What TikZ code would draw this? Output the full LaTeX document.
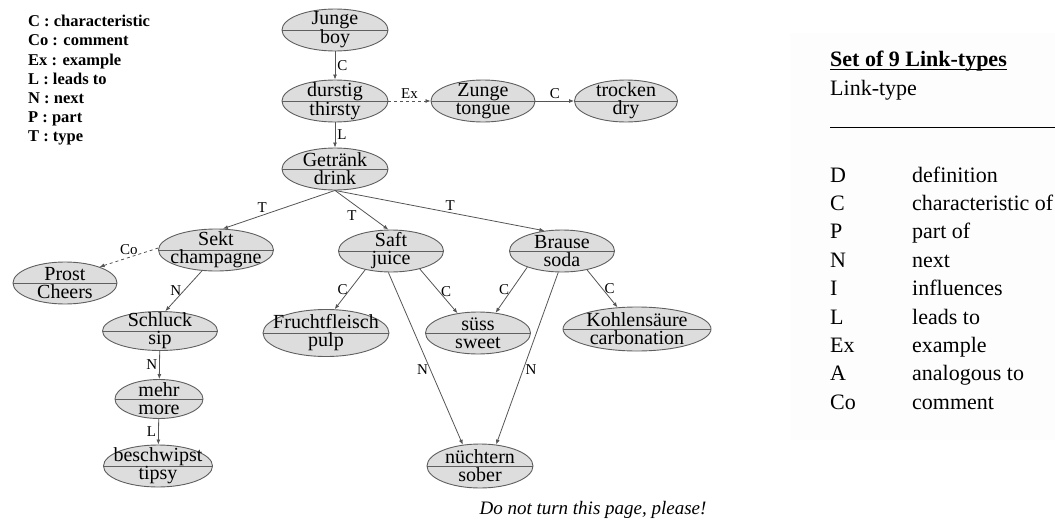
\documentclass[tikz,border=0pt]{standalone}
\usepackage{fontspec}
\setmainfont{Liberation Serif}
\usetikzlibrary{shapes.geometric}
\usetikzlibrary{arrows.meta}
\definecolor{nodegray}{RGB}{221,221,221}
\definecolor{rimgray}{RGB}{95,95,95}
\definecolor{linkgray}{RGB}{85,85,85}
\definecolor{panelgray}{RGB}{253,253,253}
\tikzset{
  % concept ellipse: German word on top, English word below the line
  concept/.style={
    ellipse,draw=rimgray,fill=nodegray,line width=.9pt,
    minimum height=42pt,inner sep=0pt,
    path picture={\draw[rimgray,line width=.9pt]
      (path picture bounding box.west) -- (path picture bounding box.east);},
  },
  words/.style={align=center,inner sep=0pt,font=\fontsize{20}{18}\selectfont},
  % links between concepts
  link/.style={draw=linkgray,line width=.8pt,-{Latex[length=5pt,width=4pt]}},
  comment/.style={link,dashed},
  tag/.style={font=\fontsize{15}{15}\selectfont,inner sep=2pt},
  keytext/.style={font=\fontsize{22}{22}\selectfont,inner sep=0pt,anchor=base west},
}
\begin{document}
\begin{tikzpicture}[x=1pt,y=-1pt]
  \useasboundingbox (0,0) rectangle (1055,522);
  \fill[panelgray] (790,33) rectangle (1055,440);
  % abbreviations
  \node[font=\fontsize{16.5}{19.2}\selectfont\bfseries,align=left,
    anchor=north west,inner sep=0pt] (abbrev) at (28,15)
    {C : characteristic\\Co : comment\\Ex : example\\L : leads to\\
     N : next\\P : part\\T : type};
  % concepts
  \node[concept,minimum width=106pt,label={[words]center:Junge\\boy}] (junge) at (335,30) {};
  \node[concept,minimum width=106pt,label={[words]center:durstig\\thirsty}] (durstig) at (335,101) {};
  \node[concept,minimum width=104pt,label={[words]center:Zunge\\tongue}] (zunge) at (483,101) {};
  \node[concept,minimum width=103pt,label={[words]center:trocken\\dry}] (trocken) at (626,101) {};
  \node[concept,minimum width=106pt,label={[words]center:Getränk\\drink}] (getraenk) at (335,169) {};
  \node[concept,minimum width=115pt,label={[words]center:Sekt\\champagne}] (sekt) at (216,250) {};
  \node[concept,minimum width=105pt,label={[words]center:Saft\\juice}] (saft) at (391,251) {};
  \node[concept,minimum width=105pt,label={[words]center:Brause\\soda}] (brause) at (562,251) {};
  \node[concept,minimum width=104pt,label={[words]center:Prost\\Cheers}] (prost) at (65,283) {};
  \node[concept,minimum width=115pt,minimum height=39pt,label={[words]center:Schluck\\sip}] (schluck) at (160,331) {};
  \node[concept,minimum width=88pt,minimum height=39pt,label={[words]center:mehr\\more}] (mehr) at (159,399) {};
  \node[concept,minimum width=109pt,label={[words]center:beschwipst\\tipsy}] (beschwipst) at (158,466) {};
  \node[concept,minimum width=126pt,minimum height=47pt,label={[words]center:Fruchtfleisch\\pulp}] (frucht) at (326,333) {};
  \node[concept,minimum width=105pt,label={[words]center:süss\\sweet}] (suess) at (478,333) {};
  \node[concept,minimum width=148pt,minimum height=44pt,label={[words]center:Kohlensäure\\carbonation}] (kohlen) at (637,329) {};
  \node[concept,minimum width=106pt,minimum height=44pt,label={[words]center:nüchtern\\sober}] (nuechtern) at (480,466) {};
  % links
  \draw[link] (junge) -- node[tag,right] {C} (durstig);
  \draw[link] (durstig) -- node[tag,right] {L} (getraenk);
  \draw[comment] (durstig) -- node[tag,above] {Ex} (zunge);
  \draw[link] (zunge) -- node[tag,above] {C} (trocken);
  \draw[link] (getraenk.south) -- node[tag,pos=.65,above] {T} (sekt.72);
  \draw[link] (getraenk.south) -- node[tag,pos=.45,below left] {T} (saft.97);
  \draw[link] (getraenk.south) -- node[tag,pos=.55,above] {T} (brause.131);
  \draw[comment] (sekt.178) -- node[tag,above] {Co} (prost.25);
  \draw[link] (sekt.236) -- node[tag,left] {N} (schluck.75);
  \draw[link] (schluck) -- node[tag,left] {N} (mehr);
  \draw[link] (mehr) -- node[tag,left] {L} (beschwipst);
  \draw[link] (saft.216) -- node[tag,left] {C} (frucht.70);
  \draw[link] (saft.328) -- node[tag,right] {C} (suess.136);
  \draw[link] (saft.263) -- node[tag,pos=.565,left] {N} (nuechtern.129);
  \draw[link] (brause.205) -- node[tag,left] {C} (suess.49);
  \draw[link] (brause.260) -- node[tag,pos=.565,right] {N} (nuechtern.53);
  \draw[link] (brause.323) -- node[tag,right] {C} (kohlen.132);
  % list of link types
  \node[keytext,font=\fontsize{22}{22}\selectfont\bfseries] (settitle) at (830,66) {Set of 9 Link-types\ };
  \draw[line width=1.8pt] ([yshift=-3.5pt]settitle.base west) -- ([yshift=-3.5pt]settitle.base east);
  \node[keytext] (linktype) at (830,95) {Link-type};
  \draw[line width=1pt] (830,127) -- (1055,127);
  \foreach \k/\t [count=\i] in {D/definition,C/characteristic of,P/part of,
      N/next,I/influences,L/leads to,Ex/example,A/analogous to,Co/comment}
  {
    \node[keytext] (key\i) at (830,{182+28.4*(\i-1)}) {\k};
    \node[keytext] (desc\i) at (912,{182+28.4*(\i-1)}) {\t};
  }
  \node[font=\fontsize{19}{19}\selectfont\itshape] (note) at (593,510) {Do not turn this page, please!};
\end{tikzpicture}
\end{document}
